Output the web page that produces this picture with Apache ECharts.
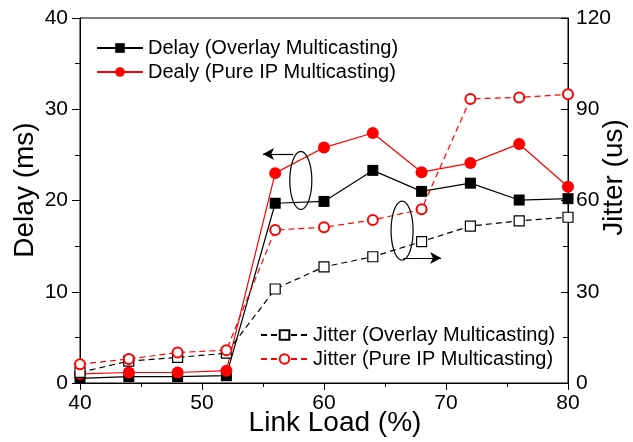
<!DOCTYPE html>
<html><head><meta charset="utf-8">
<script src="https://cdn.jsdelivr.net/npm/echarts@6/dist/echarts.min.js"></script>
<style>html,body{margin:0;padding:0;background:#fff}#c{width:633px;height:442px}</style>
</head><body><div id="c"></div>
<script>
const linkLoad = [40, 44, 48, 52, 56, 60, 64, 68, 72, 76, 80];
const delayOverlay = [0.5, 0.7, 0.7, 0.8, 19.7, 19.9, 23.3, 21.0, 21.9, 20.05, 20.2];
const delayPureIP = [1.0, 1.15, 1.15, 1.35, 23.0, 25.8, 27.4, 23.1, 24.1, 26.2, 21.5];
const jitterOverlay = [3.5, 7.2, 8.4, 9.8, 30.9, 38.2, 41.5, 46.5, 51.6, 53.3, 54.5];
const jitterPureIP = [6.2, 7.9, 10.0, 10.8, 50.3, 51.2, 53.6, 57.1, 93.4, 93.9, 94.9];
const names = ['Delay (Overlay Multicasting)', 'Dealy (Pure IP Multicasting)', 'Jitter (Overlay Multicasting)', 'Jitter (Pure IP Multicasting)'];
const rightAxisName = 'Jitter (us)';

const F = 'Liberation Sans, Arial, sans-serif';
const chart = echarts.init(document.getElementById('c'));
const pair = a => linkLoad.map((x, i) => [x, a[i]]);
const axisText = {color: '#000', fontFamily: F, fontSize: 21};
const legendText = {fontFamily: F, fontSize: 20, color: '#000'};

chart.setOption({
  animation: false,
  grid: {left: 80, right: 65, top: 18, bottom: 59, show: true, borderColor: '#000', borderWidth: 1,
         containLabel: false, outerBoundsMode: 'none'},
  legend: [
    {orient: 'vertical', left: 91, top: 33, itemWidth: 46, itemHeight: 12, itemGap: 4,
     textStyle: legendText, data: [names[0], names[1]]},
    {orient: 'vertical', left: 255, top: 320, itemWidth: 47, itemHeight: 12, itemGap: 4,
     textStyle: legendText, data: [names[2], names[3]]}
  ],
  xAxis: {type: 'value', min: 40, max: 80, interval: 10,
    name: 'Link Load (%)', nameLocation: 'middle', nameGap: 26, nameMoveOverlap: false,
    nameTextStyle: {fontFamily: F, fontSize: 28, color: '#000', padding: [0, 0, 0, 22]},
    axisLine: {lineStyle: {color: '#000', width: 1}},
    axisTick: {length: 7, lineStyle: {color: '#000'}},
    minorTick: {show: true, splitNumber: 2, length: 4, lineStyle: {color: '#000'}},
    splitLine: {show: false}, axisLabel: Object.assign({margin: 10}, axisText)},
  yAxis: [
    {type: 'value', min: 0, max: 40, interval: 10, position: 'left',
     name: 'Delay (ms)', nameLocation: 'middle', nameGap: 41, nameMoveOverlap: false,
     nameTextStyle: {fontFamily: F, fontSize: 28, color: '#000', padding: [0, 0, 0, 21]},
     axisLine: {show: true, lineStyle: {color: '#000'}},
     axisTick: {show: true, length: 8, lineStyle: {color: '#000'}},
     minorTick: {show: true, splitNumber: 2, length: 5, lineStyle: {color: '#000'}},
     splitLine: {show: false}, axisLabel: Object.assign({margin: 12}, axisText)},
    {type: 'value', min: 0, max: 120, interval: 30, position: 'right',
     axisLine: {show: true, lineStyle: {color: '#000'}},
     axisTick: {show: true, inside: true, length: 7, lineStyle: {color: '#000'}},
     minorTick: {show: true, splitNumber: 2, length: 5, lineStyle: {color: '#000'}},
     splitLine: {show: false}, axisLabel: Object.assign({margin: 8}, axisText)}
  ],
  series: [
    {name: names[0], type: 'line', yAxisIndex: 0, data: pair(delayOverlay), symbol: 'rect', symbolSize: 11,
     itemStyle: {color: '#000'}, lineStyle: {color: '#000', width: 1.2},
     markLine: {silent: true, symbol: ['none', 'arrow'], symbolSize: [9, 11], label: {show: false},
       lineStyle: {color: '#000', width: 1.2, type: 'solid'},
       data: [[{coord: [57.5, 25.1]}, {coord: [55.0, 25.1]}], [{coord: [66.5, 13.7]}, {coord: [69.6, 13.7]}]]}},
    {name: names[1], type: 'line', yAxisIndex: 0, data: pair(delayPureIP), symbol: 'circle', symbolSize: 12,
     itemStyle: {color: '#ff0000'}, lineStyle: {color: '#ff0000', width: 1.2}},
    {name: names[2], type: 'line', yAxisIndex: 1, data: pair(jitterOverlay), symbol: 'rect', symbolSize: 10,
     itemStyle: {color: '#fff', borderColor: '#000', borderWidth: 1.2},
     lineStyle: {color: '#000', width: 1.2, type: [6, 4]}},
    {name: names[3], type: 'line', yAxisIndex: 1, data: pair(jitterPureIP), symbol: 'emptyCircle', symbolSize: 10,
     itemStyle: {color: '#ff0000', borderColor: '#ff0000', borderWidth: 1.2},
     lineStyle: {color: '#ff0000', width: 1.2, type: [6, 4]}}
  ]
});

function ellipse(cxData, cyData, rx, ry) {
  const c = chart.convertToPixel({xAxisIndex: 0, yAxisIndex: 0}, [cxData, cyData]);
  const pts = [];
  for (let i = 0; i < 72; i++) {
    const t = i / 72 * Math.PI * 2;
    pts.push([c[0] + rx * Math.cos(t), c[1] + ry * Math.sin(t)]);
  }
  return {type: 'polygon', shape: {points: pts}, style: {fill: 'none', stroke: '#000', lineWidth: 1.2}, z: 10};
}
chart.setOption({graphic: [
  {type: 'text', x: 614, y: 177.5, rotation: Math.PI / 2,
   style: {text: rightAxisName, fontFamily: F, fontSize: 28, fill: '#000', align: 'center', verticalAlign: 'middle'}},
  ellipse(58.1, 22.2, 11, 29), ellipse(66.4, 16.7, 11, 29.5)]});
</script></body></html>
